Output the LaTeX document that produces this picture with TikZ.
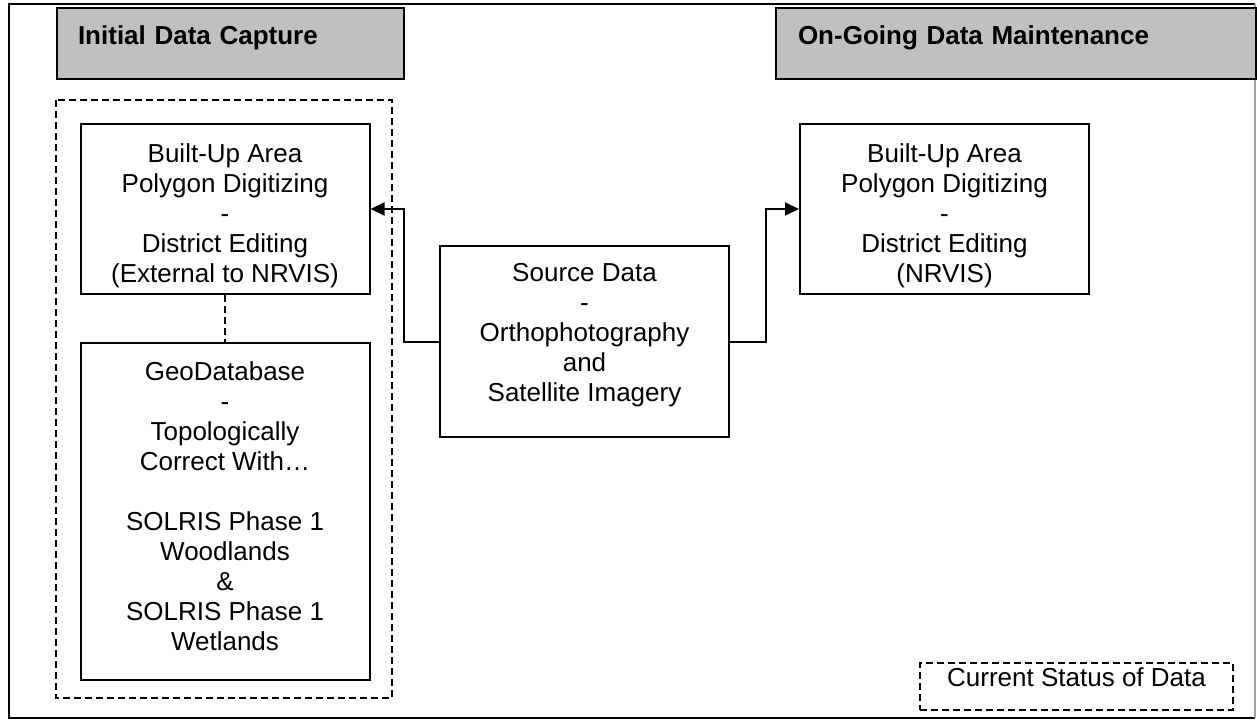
\documentclass[tikz,border=0pt]{standalone}
\usepackage{fontspec}
\setmainfont{Liberation Sans}
\usepackage{xcolor}
\usepackage{tikz}
\usetikzlibrary{positioning, arrows.meta}
\definecolor{headgray}{RGB}{192,192,192}
\definecolor{framegray}{RGB}{160,160,160}

\begin{document}
\begin{tikzpicture}[x=1pt, y=-1pt,
  every node/.style={font=\fontsize{26pt}{30pt}\selectfont, inner sep=0pt},
  box/.style={draw, line width=2pt, align=center, minimum width=289pt},
  headbox/.style={draw, line width=2pt, fill=headgray, anchor=north west,
    align=left, minimum height=71pt, font=\fontsize{26pt}{30pt}\selectfont\bfseries},
  dashline/.style={draw, line width=2pt, dash pattern=on 7pt off 4pt},
  arrow/.style={-{Triangle[length=14pt, width=13pt]}, line width=2pt}]
\useasboundingbox (0,0) rectangle (1257,723);
% outer frame
\draw[line width=1.5pt] (1255,4) -- (9,4) -- (9,718) -- (1255,718);
\draw[line width=1.5pt, framegray] (1255,4) -- (1255,718);
% phase headings
\node[headbox, inner xsep=21pt, text width=305pt] (capture) at (56,7)
  {Initial Data Capture\rule[-17pt]{0pt}{17pt}};
\node[headbox, inner xsep=22pt, text width=436pt] (upkeep) at (775,7)
  {On-Going Data Maintenance\rule[-17pt]{0pt}{17pt}};
% current status group
\draw[dashline] (56,100) rectangle (392,698);
\node[box, minimum height=170pt] (bua) at (225,209)
  {\rule{0pt}{32.5pt}Built-Up Area\\Polygon Digitizing\\-\\District Editing\\(External to NRVIS)};
\node[box, minimum height=337pt, below=47pt of bua] (geo)
  {GeoDatabase\\-\\Topologically\\Correct With…\\[30pt]SOLRIS Phase 1\\Woodlands\\\&\\SOLRIS Phase 1\\Wetlands\rule[-10pt]{0pt}{10pt}};
\draw[dashline] (bua.south) -- (geo.north);
% source and maintenance
\node[box, minimum height=191pt] (src) at (584.5,341.5)
  {Source Data\\-\\Orthophotography\\and\\Satellite Imagery\rule[-17.5pt]{0pt}{17.5pt}};
\node[box, minimum height=170pt] (nrvis) at (944.5,209)
  {\rule{0pt}{32.5pt}Built-Up Area\\Polygon Digitizing\\-\\District Editing\\(NRVIS)};
\draw[arrow] (src.west) -- ++(-35,0) |- (bua.east);
\draw[arrow] (src.east) -- ++(36,0) |- (nrvis.west);
% legend
\node[dashline, minimum width=313pt, minimum height=47pt] (status) at (1076.5,686.5)
  {Current Status of Data\rule[-18pt]{0pt}{18pt}};
\end{tikzpicture}
\end{document}
